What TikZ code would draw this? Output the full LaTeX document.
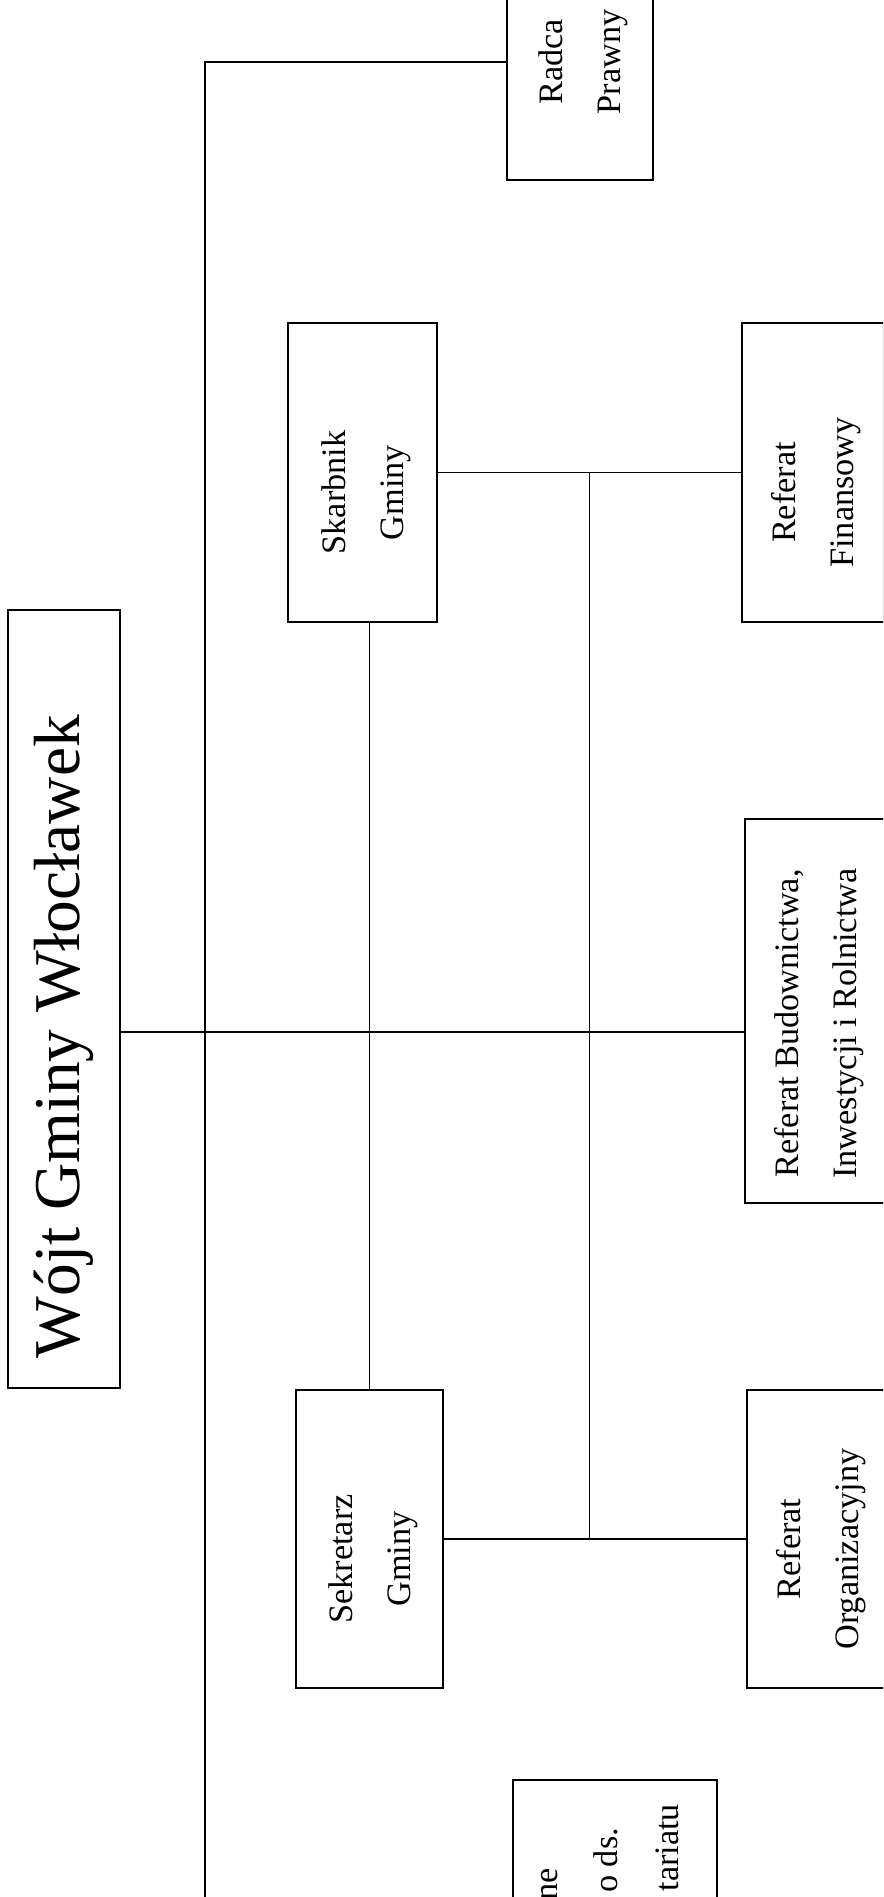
\documentclass[tikz,border=0pt]{standalone}
\usepackage{fontspec}
\setmainfont{Liberation Serif}
\usepackage{graphicx}
\usetikzlibrary{calc, positioning}

% text turned to read upwards, optional shift towards the bottom
\newcommand{\pion}[2][0.8cm]{\rotatebox{90}{\begin{tabular}{@{}c@{}}#2\end{tabular}\hspace{#1}}}

\begin{document}
\begin{tikzpicture}[y=-1cm, line width=1.1pt,
    box/.style={draw, inner sep=2pt, minimum width=2.9cm, minimum height=5.97cm,
                font=\fontsize{19.5pt}{33pt}\selectfont},
    frag/.style={rotate=90, inner sep=0pt, anchor=base east,
                 font=\fontsize{19.5pt}{33pt}\selectfont}]
    \useasboundingbox (0,0) rectangle (17.66,37.94);
    \clip (0,0) rectangle (17.66,37.94);

    % Nodes
    \node [box, minimum width=2.24cm, minimum height=15.56cm, inner xsep=0.2cm, inner ysep=0.6cm] (wojt) at (1.28,19.98)
        {\rotatebox{90}{\makebox[14.36cm][l]{\fontsize{37.2pt}{40pt}\selectfont Wójt Gminy Włocławek}}};
    \node [box, minimum width=2.92cm, minimum height=4.72cm] (radca) at (11.6,1.24) {\pion[0cm]{Radca\\Prawny}};
    \node [box, minimum width=2.98cm] (skarb) at (7.25,9.45) {\pion{Skarbnik\\Gminy}};
    \node [box, minimum width=2.84cm, right=6.06cm of skarb] (fin) {\pion{Referat\\Finansowy}};
    \node [box, minimum width=2.84cm, minimum height=7.68cm] (bud) at (16.32,20.22) {\pion[0.5cm]{Referat Budownictwa,\\Inwestycji i Rolnictwa}};
    \node [box, minimum width=2.94cm] (sek) at (7.39,30.78) {\pion{Sekretarz\\Gminy}};
    \node [box, minimum width=2.84cm, right=6.04cm of sek] (org) {\pion[0.4cm]{Referat\\Organizacyjny}};
    \node [box, minimum width=4.08cm, minimum height=6cm] (sam) at (12.3,38.6) {};
    \node [frag] (samA) at (11.14,37.34) {ne};
    \node [frag] (samB) at (12.34,36.54) {o ds.};
    \node [frag] (samC) at (13.56,36.06) {tariatu};

    % Paths
    \coordinate (dol) at (4.1,38.5);
    \coordinate (budIn) at ($(bud.west)+(0,0.42)$);
    \coordinate (mid) at ($(skarb.east)!0.5!(fin.west)$);
    \draw (radca.west) -- (radca.west -| dol) -- (dol);
    \draw (wojt.east |- budIn) -- (budIn);
    \draw (skarb.east) -- (fin.west);
    \draw (sek.east) -- (org.west |- sek.east);
    \draw (sek.north |- skarb.south) -- (sek.north);
    \draw (mid) -- (mid |- sek.east);
\end{tikzpicture}
\end{document}
